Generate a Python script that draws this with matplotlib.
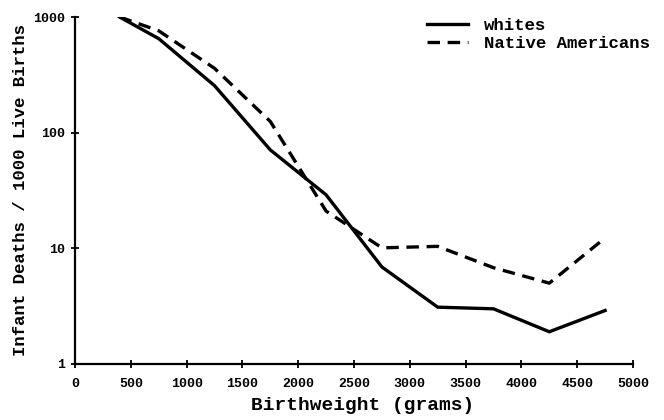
import matplotlib
matplotlib.use("Agg")
import matplotlib.pyplot as plt
from matplotlib.ticker import FixedLocator, NullLocator

plt.rcParams['font.family'] = ['Liberation Mono', 'DejaVu Sans Mono']
plt.rcParams['font.weight'] = 'bold'
plt.rcParams['lines.scale_dashes'] = False

# birthweight groups (grams) and infant deaths per 1000 live births
weights = [400, 750, 1250, 1750, 2250, 2750, 3250, 3750, 4250, 4750]
whites = [1000, 650, 255, 71, 29, 6.9, 3.1, 3.0, 1.9, 2.9]
native_americans = [1000, 760, 360, 125, 21, 10.1, 10.4, 6.8, 5.0, 12.3]

x_ticks = [0, 500, 1000, 1500, 2000, 2500, 3000, 3500, 4000, 4500, 5000]
y_ticks = [1, 10, 100, 1000]

fig = plt.figure(figsize=(6.64, 4.2), dpi=100)
ax = fig.add_axes([75 / 664, 56 / 420, 558 / 664, 347 / 420])

ax.plot(weights, whites, color='black', lw=2.4, solid_joinstyle='miter', label='whites')
ax.plot(weights, native_americans, color='black', lw=2.4, dashes=(9.0, 5.5),
        dash_capstyle='butt', label='Native Americans')

ax.set_yscale('log')
ax.set_xlim(0, 5000)
ax.set_ylim(1, 1000)
ax.xaxis.set_major_locator(FixedLocator(x_ticks))
ax.yaxis.set_major_locator(FixedLocator(y_ticks))
ax.yaxis.set_minor_locator(NullLocator())
ax.set_xticklabels([str(t) for t in x_ticks])
ax.set_yticklabels([str(t) for t in y_ticks])

for side in ['top', 'right']:
    ax.spines[side].set_visible(False)
for side in ['left', 'bottom']:
    ax.spines[side].set_linewidth(1.6)

ax.tick_params(direction='inout', length=6, width=1.3, labelsize=9.5)
ax.tick_params(axis='x', pad=7)
ax.tick_params(axis='y', pad=4)
for lbl in ax.get_xticklabels() + ax.get_yticklabels():
    lbl.set_fontweight('bold')

ax.set_xlabel('Birthweight (grams)', fontsize=14, fontweight='bold')
ax.xaxis.set_label_coords(0.516, -0.095)
ax.set_ylabel('Infant Deaths / 1000 Live Births', fontsize=12.5, fontweight='bold', labelpad=4)

ax.legend(loc='upper right', bbox_to_anchor=(650 / 664, 1 - 18 / 420),
          bbox_transform=fig.transFigure, frameon=False, fontsize=12.5,
          handlelength=2.4, handletextpad=0.9, labelspacing=0.15,
          borderpad=0, borderaxespad=0)

fig.savefig('out.png', dpi=100)
